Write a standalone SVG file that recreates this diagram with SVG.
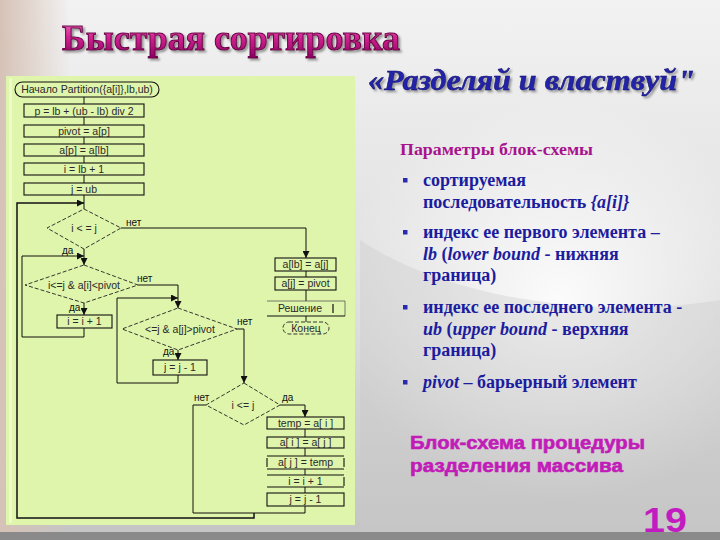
<svg xmlns="http://www.w3.org/2000/svg" width="720" height="540" viewBox="0 0 720 540">
<defs>
<linearGradient id="bg" x1="0" y1="0" x2="0" y2="1">
<stop offset="0" stop-color="#f2f2f2"/>
<stop offset="0.45" stop-color="#e2e2e2"/>
<stop offset="1" stop-color="#c4c4c4"/>
</linearGradient>
<linearGradient id="beige" x1="0" y1="0" x2="1" y2="0">
<stop offset="0" stop-color="#d6c2b6"/>
<stop offset="1" stop-color="#d6c2b6" stop-opacity="0"/>
</linearGradient>
<radialGradient id="hl" cx="0.5" cy="0.5" r="0.5">
<stop offset="0" stop-color="#ffffff" stop-opacity="0.9"/>
<stop offset="1" stop-color="#ffffff" stop-opacity="0"/>
</radialGradient>
<linearGradient id="tg" x1="0" y1="0" x2="0" y2="1">
<stop offset="0" stop-color="#f070c0"/>
<stop offset="0.5" stop-color="#d0208f"/>
<stop offset="1" stop-color="#8a0060"/>
</linearGradient>
<filter id="sh" x="-5%" y="-20%" width="110%" height="150%">
<feDropShadow dx="2" dy="2" stdDeviation="0.8" flood-color="#555" flood-opacity="0.6"/>
</filter>
<marker id="ah" viewBox="0 0 8 8" refX="8" refY="4" markerWidth="7" markerHeight="7" markerUnits="userSpaceOnUse" orient="auto">
<path d="M0,0 L8,4 L0,8 Z" fill="#111"/>
</marker>
<style>
.fc{font-family:"Liberation Sans",Arial,sans-serif;font-size:10.5px;fill:#2a2a2a;text-anchor:middle}
.lb{font-family:"Liberation Sans",Arial,sans-serif;font-size:10px;fill:#111}
.box{fill:none;stroke:#111;stroke-width:1.1}
.dia{fill:none;stroke:#222;stroke-width:0.9;stroke-dasharray:4 2}
.ln{fill:none;stroke:#111;stroke-width:1}
.lk{fill:none;stroke:#111;stroke-width:1.5}
.arr{marker-end:url(#ah)}
.par{font-family:"Liberation Serif","Times New Roman",serif;font-weight:bold;font-size:18px;fill:#1c1c9e}
.bul{fill:#2a2ab0}
.cap{font-family:"Liberation Sans",Arial,sans-serif;font-weight:bold;font-size:18px;fill:#c21cb8;stroke:#c21cb8;stroke-width:0.6}
</style>
</defs>

<!-- background slide -->
<rect x="0" y="0" width="720" height="540" fill="url(#bg)"/>
<rect x="0" y="0" width="70" height="540" fill="url(#beige)"/>
<ellipse cx="560" cy="300" rx="230" ry="200" fill="url(#hl)"/>
<path d="M360,240 C450,300 600,320 720,300 L720,540 L360,540 Z" fill="#c8c8c8" opacity="0.35"/>
<rect x="0" y="532" width="720" height="8" fill="#8a8a8a"/>

<!-- titles -->
<text x="62" y="50" font-family="'Liberation Serif','Times New Roman',serif" font-weight="bold" font-size="35" fill="url(#tg)" stroke="#6a0048" stroke-width="1" textLength="338" lengthAdjust="spacingAndGlyphs" filter="url(#sh)">Быстрая сортировка</text>
<text x="368" y="90" font-family="'Liberation Serif','Times New Roman',serif" font-weight="bold" font-style="italic" font-size="30" fill="#2424aa" stroke="#10106a" stroke-width="0.5" textLength="327" lengthAdjust="spacingAndGlyphs" filter="url(#sh)">«Разделяй и властвуй"</text>

<!-- flowchart panel -->
<rect x="6" y="76" width="349" height="449" fill="#dff5ab"/>
<rect x="9" y="78" width="3" height="445" fill="#ecfcc8"/>

<g id="connectors">
<path class="ln" d="M84,97 V104 M84,117 V125 M84,137 V144 M84,156 V163 M84,175 V183 M84,195 V209"/>
<path class="lk arr" d="M254,513 V518 H17 V203 H84"/>
<path class="ln" d="M305,506 V513 H193 V405 H206"/>
<path class="ln arr" d="M84,249 V265"/>
<path class="ln arr" d="M84,328 V337 H22 V256 H84"/>
<path class="ln arr" d="M138,285 H178 V308"/>
<path class="ln arr" d="M84,303 V315"/>
<path class="ln arr" d="M178,350 V360"/>
<path class="ln arr" d="M178,375 V383 H117 V298 H178"/>
<path class="ln arr" d="M237,329 H244 V383"/>
<path class="ln arr" d="M280,405 H305 V417"/>
<path class="ln" d="M305,429 V437 M305,448 V456 M305,469 V475 M305,487 V493"/>
<path class="ln arr" d="M121,228 H306 V258"/>
<path class="ln" d="M306,271 V277 M306,290 V301 M306,316 V322"/>
<text class="lb" x="126" y="226">нет</text>
<text class="lb" x="62" y="254">да</text>
<text class="lb" x="137" y="282">нет</text>
<text class="lb" x="69" y="311" font-size="8">да</text>
<text class="lb" x="237" y="325">нет</text>
<text class="lb" x="163" y="355">да</text>
<text class="lb" x="194" y="401">нет</text>
<text class="lb" x="282" y="401">да</text>
</g>

<g id="start">
<rect class="box" x="15" y="82" width="144" height="15" rx="7.5"/>
<text class="fc" x="87" y="93">Начало Partition({a[i]},lb,ub)</text>
</g>
<g id="calc-p">
<rect class="box" x="24" y="104" width="120" height="13"/>
<text class="fc" x="84" y="114.5">p = lb + (ub - lb) div 2</text>
</g>
<g id="set-pivot">
<rect class="box" x="24" y="125" width="120" height="12"/>
<text class="fc" x="84" y="135">pivot = a[p]</text>
</g>
<g id="set-ap">
<rect class="box" x="24" y="144" width="120" height="12"/>
<text class="fc" x="84" y="154">a[p] = a[lb]</text>
</g>
<g id="set-i">
<rect class="box" x="24" y="163" width="120" height="12"/>
<text class="fc" x="84" y="173">i = lb + 1</text>
</g>
<g id="set-j">
<rect class="box" x="24" y="183" width="120" height="12"/>
<text class="fc" x="84" y="193">j = ub</text>
</g>
<g id="cond-outer">
<path class="dia" d="M84,209 L121,228 L84,249 L47,228 Z"/>
<text class="fc" x="84" y="232">i &lt; = j</text>
</g>
<g id="cond-i">
<path class="dia" d="M84,265 L138,285 L84,303 L25,285 Z"/>
<text class="fc" x="84" y="289">i&lt;=j &amp; a[i]&lt;pivot</text>
</g>
<g id="inc-i">
<rect class="box" x="57" y="315" width="55" height="13"/>
<text class="fc" x="84.5" y="325">i =  i + 1</text>
</g>
<g id="cond-j">
<path class="dia" d="M178,308 L237,329 L178,350 L122,329 Z"/>
<text class="fc" x="180" y="333">&lt;=j &amp; a[j]&gt;pivot</text>
</g>
<g id="dec-j">
<rect class="box" x="153" y="360" width="54" height="15"/>
<text class="fc" x="180" y="371">j =  j - 1</text>
</g>
<g id="cond-swap">
<path class="dia" d="M244,383 L280,405 L244,425 L206,405 Z"/>
<text class="fc" x="243" y="409">i &lt;= j</text>
</g>
<g id="temp">
<rect class="box" x="267" y="417" width="77" height="12"/>
<text class="fc" x="305.5" y="427">temp = a[ i ]</text>
</g>
<g id="swap1">
<rect class="box" x="267" y="437" width="77" height="11"/>
<text class="fc" x="305.5" y="446">a[ i ] = a[ j ]</text>
</g>
<g id="swap2">
<path class="box" d="M267,456 H344 M267,458 V467 M344,458 V467 M267,469 H344"/>
<text class="fc" x="305.5" y="466">a[ j ] = temp</text>
</g>
<g id="inc-i2">
<path class="box" d="M267,475 H344 M344,477 V486 M267,487 H344"/>
<text class="fc" x="305.5" y="485">i = i + 1</text>
</g>
<g id="dec-j2">
<rect class="box" x="267" y="493" width="77" height="13"/>
<text class="fc" x="305.5" y="503">j = j - 1</text>
</g>
<g id="set-alb">
<rect class="box" x="275" y="258" width="61" height="13"/>
<text class="fc" x="305.5" y="268">a[lb] = a[j]</text>
</g>
<g id="set-aj">
<rect class="box" x="275" y="277" width="61" height="13"/>
<text class="fc" x="305.5" y="287">a[j] = pivot</text>
</g>
<g id="result">
<path d="M267,301 H345 V316" fill="none" stroke="#555" stroke-width="0.8"/>
<path d="M267,316 H345 M333,304 V313" fill="none" stroke="#111" stroke-width="1.2"/>
<text class="fc" x="300" y="312">Решение</text>
</g>
<g id="end">
<rect class="dia" x="283" y="322" width="46" height="12" rx="6"/>
<text class="fc" x="306" y="332">Конец</text>
</g>

<!-- parameters text -->
<text x="400" y="155" font-family="'Liberation Serif','Times New Roman',serif" font-weight="bold" font-size="17" fill="#a8128c" textLength="193" lengthAdjust="spacingAndGlyphs">Параметры блок-схемы</text>
<rect class="bul" x="403" y="178" width="4.5" height="4.5"/>
<rect class="bul" x="403" y="230" width="4.5" height="4.5"/>
<rect class="bul" x="403" y="305" width="4.5" height="4.5"/>
<rect class="bul" x="403" y="380" width="4.5" height="4.5"/>
<text class="par" x="423" y="186">сортируемая</text>
<text class="par" x="423" y="208">последовательность <tspan font-style="italic">{a[i]}</tspan></text>
<text class="par" x="423" y="238">индекс ее первого  элемента –</text>
<text class="par" x="423" y="260"><tspan font-style="italic">lb</tspan> (<tspan font-style="italic">lower bound</tspan>  - нижняя</text>
<text class="par" x="423" y="281">граница)</text>
<text class="par" x="423" y="313">индекс ее последнего элемента -</text>
<text class="par" x="423" y="335"><tspan font-style="italic">ub</tspan> (<tspan font-style="italic">upper bound</tspan>  - верхняя</text>
<text class="par" x="423" y="356">граница)</text>
<text class="par" x="423" y="388"><tspan font-style="italic">pivot</tspan> – барьерный элемент</text>

<text class="cap" x="410" y="449" textLength="235" lengthAdjust="spacingAndGlyphs">Блок-схема процедуры</text>
<text class="cap" x="410" y="472" textLength="213" lengthAdjust="spacingAndGlyphs">разделения массива</text>
<text x="643" y="532" font-family="'Liberation Sans',Arial,sans-serif" font-weight="bold" font-size="35" fill="#c21cc0" textLength="44" lengthAdjust="spacingAndGlyphs">19</text>
</svg>
